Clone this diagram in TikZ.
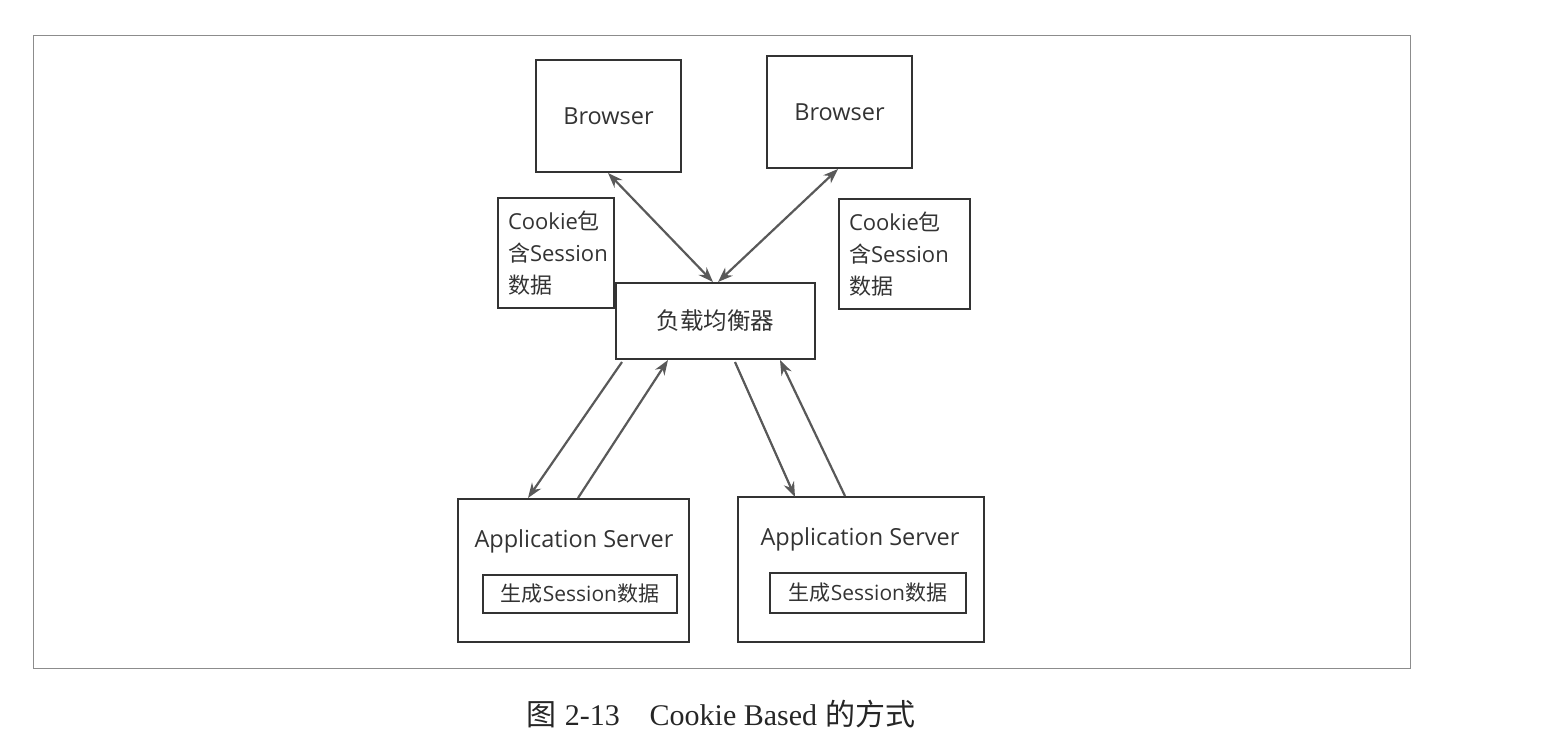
\documentclass[tikz,border=0pt]{standalone}
\usepackage{fontspec}
\setmainfont{Open Sans}
\newfontfamily\cjk{Noto Sans CJK SC}
\newfontfamily\capfont{Liberation Serif}
\newfontfamily\capcjk{Noto Sans CJK SC}
\usetikzlibrary{arrows.meta}
\begin{document}
\begin{tikzpicture}[x=1pt,y=-1pt,
  box/.style={draw=black!80,line width=2pt,inner sep=0pt},
  arr/.style={draw=black!65,line width=2.2pt,-{Stealth[length=15pt,width=11pt]}},
  darr/.style={draw=black!65,line width=2.2pt,{Stealth[length=15pt,width=11pt]}-{Stealth[length=15pt,width=11pt]}},
  txt/.style={font=\fontsize{23.5}{30}\selectfont,text=black!80},
  ck/.style={box,font=\fontsize{22}{32}\selectfont,text=black!80,align=left,inner xsep=10pt,minimum height=110pt}]
\useasboundingbox (0,0) rectangle (1542,744);
\draw[black!45,line width=1pt] (33,35) rectangle (1410,668);
\node[box,minimum width=145pt,minimum height=112pt,txt] (b1) at (608.5,116) {Browser};
\node[box,minimum width=145pt,minimum height=112pt,txt] (b2) at (839.5,112) {Browser};
\node[ck,text width=96pt] (c1) at (556,253) {Cookie{\cjk 包}\\{\cjk 含}Session\\{\cjk 数据}};
\node[ck,text width=111pt] (c2) at (904.5,254) {Cookie{\cjk 包}\\{\cjk 含}Session\\{\cjk 数据}};
\node[box,fill=white,minimum width=199pt,minimum height=76pt,txt] (lb) at (715.5,321) {\cjk 负载均衡器};
\node[box,minimum width=231pt,minimum height=143pt] (s1) at (573.5,570.5) {};
\node[txt] (t1) at (574,541) {Application Server};
\node[box,minimum width=194pt,minimum height=38pt,font=\fontsize{21}{24}\selectfont,text=black!80] (i1) at (580,594) {{\cjk 生成}Session{\cjk 数据}};
\node[box,minimum width=246pt,minimum height=145pt] (s2) at (861,569.5) {};
\node[txt] (t2) at (860,539) {Application Server};
\node[box,minimum width=196pt,minimum height=40pt,font=\fontsize{21}{24}\selectfont,text=black!80] (i2) at (868,593) {{\cjk 生成}Session{\cjk 数据}};
\coordinate (p1) at (608,173); \coordinate (p2) at (713,282);
\coordinate (p3) at (838,169); \coordinate (p4) at (718,282);
\draw[darr] (p1) -- (p2);
\draw[darr] (p3) -- (p4);
\coordinate (q1) at (622,362); \coordinate (q2) at (528,498);
\coordinate (q3) at (578,498); \coordinate (q4) at (668,360);
\coordinate (q5) at (735,362); \coordinate (q6) at (795,497);
\coordinate (q7) at (845,496); \coordinate (q8) at (780,360);
\draw[arr] (q1) -- (q2);
\draw[arr] (q3) -- (q4);
\draw[arr] (q5) -- (q6);
\draw[arr] (q7) -- (q8);
\node[font=\fontsize{30}{34}\selectfont,text=black!85] (cap) at (721,714) {{\capcjk 图} {\capfont 2-13\quad Cookie Based} {\capcjk 的方式}};
\end{tikzpicture}
\end{document}
